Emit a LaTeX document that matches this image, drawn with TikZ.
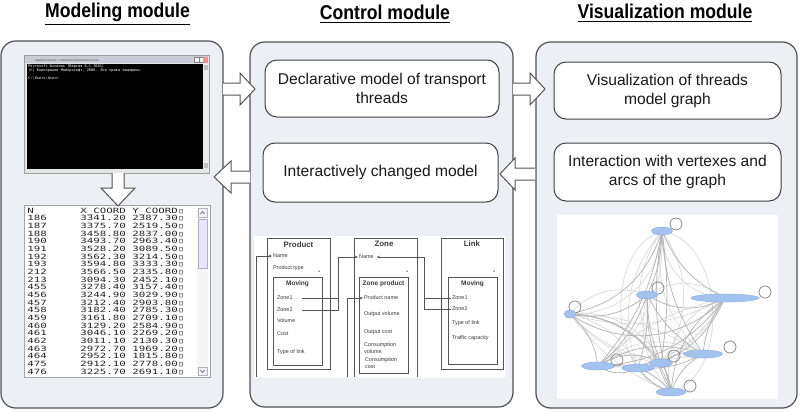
\documentclass[tikz,border=0pt]{standalone}
\usepackage{fontspec}
\setmainfont{Liberation Sans}
\newfontfamily\titlefont[FakeStretch=0.88]{Liberation Sans}
\newfontfamily\tabfont[FakeStretch=1.5]{DejaVu Sans Mono}
\newfontfamily\confont{DejaVu Sans Mono}
\usetikzlibrary{calc,shapes.geometric,arrows.meta}
\definecolor{panelfill}{HTML}{ECEFF4}
\definecolor{panelline}{HTML}{505050}
\definecolor{boxline}{HTML}{404040}
\definecolor{arrowline}{HTML}{555555}
\definecolor{umlgray}{HTML}{555555}
\definecolor{umltext}{HTML}{3A3A3A}
\definecolor{gfill}{HTML}{A3C2EE}
\definecolor{gline}{HTML}{88ACE0}
\definecolor{edgelight}{HTML}{DADADA}
\definecolor{edgedark}{HTML}{B4B4B4}
\begin{document}
\begin{tikzpicture}[x=0.75pt,y=-0.75pt,
  panel/.style={draw=panelline, fill=panelfill, line width=0.9pt, rounded corners=11pt, inner sep=0pt},
  modbox/.style={draw=boxline, fill=white, line width=0.75pt, rounded corners=9pt, align=center,
     font=\fontsize{11.7pt}{14.25pt}\selectfont, inner sep=0pt, text=black!90},
  titletext/.style={font=\titlefont\bfseries\fontsize{15pt}{18pt}\selectfont, inner sep=0pt},
  blockarrow/.style={draw=arrowline, fill=white, line width=0.75pt, line join=miter},
  tabtxt/.style={font=\tabfont\fontsize{5.4pt}{6pt}\selectfont, anchor=base west, inner sep=0pt, text=black!85},
  contxt/.style={font=\confont\fontsize{2.7pt}{3pt}\selectfont, anchor=base west, inner sep=0pt, text=white},
  umlbox/.style={draw=umlgray, line width=0.5pt, inner sep=0pt},
  umltitle/.style={font=\bfseries\fontsize{5.9pt}{7pt}\selectfont, inner sep=0pt, text=umltext},
  umlsub/.style={font=\bfseries\fontsize{4.9pt}{6pt}\selectfont, inner sep=0pt, text=umltext},
  umlitem/.style={font=\fontsize{4.1pt}{5pt}\selectfont, anchor=west, inner sep=0.6pt, text=umltext},
  umlline/.style={draw=umlgray, line width=0.45pt},
  umlarrow/.style={umlline, -{Stealth[length=2.4pt,width=2pt]}},
  gnode/.style={ellipse, fill=gfill, draw=gline, line width=0.3pt, minimum height=6pt, inner sep=0pt},
  gloop/.style={circle, draw=black!45, line width=0.6pt, minimum size=9pt, inner sep=0pt},
  gedgel/.style={draw=edgelight, line width=0.5pt},
  gedged/.style={draw=edgedark, line width=0.55pt}
]
\useasboundingbox (0,0) rectangle (800,411);
\fill[white] (0,0) rectangle (800,411);

% titles
\node[titletext] (t1) at (117.5,14) {\underline{Modeling module}};
\node[titletext] (t2) at (385,14) {\underline{Control module}};
\node[titletext] (t3) at (665,13) {\underline{Visualization module}};

% panels
\node[panel, minimum width=166.5pt, minimum height=275.25pt] (lp) at (112,224.5) {};
\node[panel, minimum width=197.25pt, minimum height=273.75pt] (mp) at (381.5,224.5) {};
\node[panel, minimum width=195.75pt, minimum height=274.5pt] (rp) at (666.5,225) {};

% module boxes
\node[modbox, minimum width=175.5pt, minimum height=42.75pt] (b1) at (382,88.5) {Declarative model of transport\\threads};
\node[modbox, minimum width=176.25pt, minimum height=44.25pt] (b2) at (380.5,172.5) {Interactively changed model};
\node[modbox, minimum width=170.25pt, minimum height=42.75pt] (b3) at (667.5,90.5) {Visualization of threads\\model graph};
\node[modbox, minimum width=170.25pt, minimum height=43.5pt] (b4) at (667.5,172) {Interaction with vertexes and\\arcs of the graph};

% console window
\node[draw=black!38, fill=black!10, line width=0.5pt, minimum width=138.75pt, minimum height=88.5pt, inner sep=0pt] (con) at (116.5,114) {};
\fill[blue!22!black!20] (25,56) rectangle (208,63);
\node[font=\fontsize{2.2pt}{3pt}\selectfont, anchor=base west, inner sep=0pt, text=black!70] (contitle) at (35,61) {Администратор: C:\textbackslash Windows\textbackslash system32\textbackslash cmd.exe};
\fill[black!5] (194,57) rectangle (208,62.5);
\draw[black!50, line width=0.3pt] (194,57) rectangle (199,62.5) (199,57) rectangle (203,62.5);
\fill[red!45] (203,57) rectangle (208,62.5);
\fill[black] (27,64) rectangle (203,169);
\fill[black!8] (203,64) rectangle (208,169);
\fill[black!25] (203.5,65) rectangle (207.5,70);
\fill[black!25] (203.5,163) rectangle (207.5,168);
\node[contxt] (cl1) at (28,67) {Microsoft Windows [Версия 6.1.7601]};
\node[contxt] (cl2) at (28,71) {(С) Корпорация Майкрософт, 2006. Все права защищены.};
\node[contxt] (cl3) at (28,79) {C:\textbackslash Users\textbackslash User>};

% table window
\node[draw=black!35, fill=white, line width=0.5pt, minimum width=139.5pt, minimum height=129pt, inner sep=0pt] (tab) at (117,291) {};
\fill[black!4] (197,207) rectangle (208,376);
\draw[black!30, line width=0.3pt, fill=blue!6] (198,208) rectangle (207,217);
\draw[black!30, line width=0.3pt, fill=blue!10] (198,219) rectangle (207,268);
\draw[black!30, line width=0.3pt, fill=blue!6] (198,367) rectangle (207,375);
\draw[black!60, line width=0.5pt] (200.5,214) -- (202.5,211.5) -- (204.5,214);
\draw[black!60, line width=0.5pt] (200.5,370) -- (202.5,372.5) -- (204.5,370);
\node[tabtxt] (hN) at (27,213) {N};
\node[tabtxt] (hX) at (80,213) {X\_COORD};
\node[tabtxt] (hY) at (132,213) {Y\_COORD▯};
\foreach \n/\xc/\yc [count=\i] in {186/3341.20/2387.30,187/3375.70/2519.50,188/3458.80/2837.00,190/3493.70/2963.40,191/3528.20/3089.50,192/3562.30/3214.50,193/3594.80/3333.30,212/3566.50/2335.80,213/3094.30/2452.10,455/3278.40/3157.40,456/3244.90/3029.90,457/3212.40/2903.80,458/3182.40/2785.30,459/3161.80/2709.10,460/3129.20/2584.90,461/3046.10/2269.20,462/3011.10/2130.30,463/2972.70/1969.20,464/2952.10/1815.80,475/2912.10/2778.00,476/3225.70/2691.10}{
  \node[tabtxt] (rn\i) at (27,213+7.67*\i) {\n};
  \node[tabtxt] (rx\i) at (80,213+7.67*\i) {\xc};
  \node[tabtxt] (ry\i) at (132,213+7.67*\i) {\yc▯};
}

% block arrows
\draw[blockarrow] (112,173) -- (112,188) -- (101,188) -- (118,206) -- (135,188) -- (124,188) -- (124,173);
\draw[blockarrow] (223,83) -- (240,83) -- (240,73) -- (255,89) -- (240,105) -- (240,95) -- (223,95);
\draw[blockarrow] (513,83) -- (530,83) -- (530,73) -- (545,89) -- (530,105) -- (530,95) -- (513,95);
\draw[blockarrow] (535,168) -- (515,168) -- (515,158) -- (500,174) -- (515,190) -- (515,180) -- (535,180);
\draw[blockarrow] (250,171) -- (231,171) -- (231,161) -- (214,177) -- (231,193) -- (231,183) -- (250,183);

% UML picture
\node[fill=white, minimum width=188.25pt, minimum height=106.5pt, inner sep=0pt] (uml) at (379.5,307) {};
% Product
\node[umlbox, minimum width=47.25pt, minimum height=98.25pt] (prod) at (298.5,303.5) {};
\node[umltitle] (prodt) at (298.5,245) {Product};
\node[umlitem] (pname) at (272,256) {Name};
\node[umlitem] (ptype) at (272,268) {Product type};
\node[umlitem] (pstar) at (317,273) {*};
\node[umlbox, minimum width=36.75pt, minimum height=66pt] (pmov) at (297.5,321) {};
\node[umlsub] (pmovt) at (297.5,284) {Moving};
\node[umlitem] (pz1) at (276,298) {Zone1};
\node[umlitem] (pz2) at (276,310) {Zone2};
\node[umlitem] (pvol) at (276,321) {Volume};
\node[umlitem] (pcost) at (276,334) {Cost};
\node[umlitem] (ptl) at (276,352) {Type of link};
% Zone
\draw[umlline] (354,377) -- (354,238) -- (417,238) -- (417,377);
\node[umltitle] (zonet) at (384,244) {Zone};
\node[umlitem] (zname) at (358,257) {Name};
\node[umlitem] (zstar) at (405,273) {*};
\node[umlbox, minimum width=36.75pt, minimum height=72pt] (zprod) at (383.5,325) {};
\node[umlsub] (zprodt) at (383.5,284) {Zone product};
\node[umlitem] (zpname) at (363,298) {Product name};
\node[umlitem] (zov) at (363,314) {Output volume};
\node[umlitem] (zoc) at (363,332) {Output cost};
\node[umlitem] (zcv1) at (363,345) {Consumption};
\node[umlitem] (zcv2) at (363,352) {volume};
\node[umlitem] (zcc1) at (364,360) {Consumption};
\node[umlitem] (zcc2) at (364,367) {cost};
% Link
\node[umlbox, minimum width=46.5pt, minimum height=98.25pt] (link) at (472,303.5) {};
\node[umltitle] (linkt) at (472,244) {Link};
\node[umlitem] (lstar) at (492,273) {*};
\node[umlbox, minimum width=36.75pt, minimum height=65.25pt] (lmov) at (472.5,320.5) {};
\node[umlsub] (lmovt) at (472.5,284) {Moving};
\node[umlitem] (lz1) at (451,298) {Zone1};
\node[umlitem] (lz2) at (451,309) {Zone2};
\node[umlitem] (ltl) at (451,323) {Type of link};
\node[umlitem] (ltc) at (451,338) {Traffic capacity};
% UML connectors
\coordinate (c1) at (256,377);
\draw[umlarrow] (c1) |- (pname.west);
\coordinate (k1) at (338,257);
\draw[umlarrow] ([xshift=6.5pt]pz1.east) -| (k1) -- (zname.west);
\draw[umlline] ([xshift=6.5pt]pz2.east) -| (k1);
\coordinate (k2) at (424,257);
\draw[umlarrow, shorten >=1.5pt] (lz1.west) -| (k2) -- (zname.east);
\draw[umlline] (lz2.west) -| (k2);
\coordinate (c4) at (347,377);
\draw[umlarrow] (c4) |- (zpname.west);

% graph picture
\node[fill=white, minimum width=165.75pt, minimum height=138pt, inner sep=0pt] (gpic) at (667.5,307) {};
\foreach \n/\x/\y in {g1/662/231, g2/647/295, g3/725/298, g4/570/314, g5/703/354, g6/598/366, g7/638/368, g8/661/363, g9/671/392}
  \coordinate (\n) at (\x,\y);
\foreach \a/\b/\c in {g1/g9/78, g1/g9/-75, g1/g4/45, g1/g3/-45, g4/g9/45, g3/g9/-45, g4/g5/-30, g4/g3/-22, g6/g3/-35, g4/g7/25, g1/g6/28, g1/g5/-28, g2/g9/-28, g4/g8/-20, g3/g7/20, g1/g7/-30, g6/g5/35, g4/g9/-15, g4/g5/15, g3/g6/-15, g2/g4/-35, g2/g3/35, g1/g8/-35, g1/g8/35}
  \draw[gedgel] (\a) to[bend left=\c] (\b);
\foreach \a/\b/\c in {g1/g2/12, g1/g4/30, g1/g5/-15, g1/g6/15, g1/g8/8, g1/g9/-12, g1/g3/-20, g2/g3/-30, g2/g4/25, g4/g3/-40, g2/g5/-15, g2/g6/15, g2/g7/10, g2/g8/-10, g2/g9/-15, g4/g6/20, g4/g8/25, g4/g9/35, g3/g5/-15, g3/g6/25, g3/g9/-25, g3/g8/20, g5/g6/-25, g5/g7/15, g5/g9/-20, g6/g7/-30, g6/g9/30, g7/g9/-15, g8/g9/15, g6/g8/30, g7/g8/25, g5/g8/-25}
  \draw[gedged] (\a) to[bend left=\c] (\b);
\node[gloop] (l1) at (676,224) {};
\node[gloop] (l2) at (658,288) {};
\node[gloop] (l3) at (765,292) {};
\node[gloop] (l4) at (575,307) {};
\node[gloop] (l5) at (730,347) {};
\node[gloop] (l6) at (617,360) {};
\node[gloop] (l8) at (674,356) {};
\node[gloop] (l9) at (690,386) {};
\node[gnode, minimum width=15.75pt] (n1) at (g1) {};
\node[gnode, minimum width=15.75pt] (n2) at (g2) {};
\node[gnode, minimum width=51pt] (n3) at (g3) {};
\node[gnode, minimum width=9pt] (n4) at (g4) {};
\node[gnode, minimum width=29.25pt] (n5) at (g5) {};
\node[gnode, minimum width=24.75pt] (n6) at (g6) {};
\node[gnode, minimum width=24pt] (n7) at (g7) {};
\node[gnode, minimum width=17.25pt] (n8) at (g8) {};
\node[gnode, minimum width=22.5pt] (n9) at (g9) {};
\end{tikzpicture}
\end{document}
